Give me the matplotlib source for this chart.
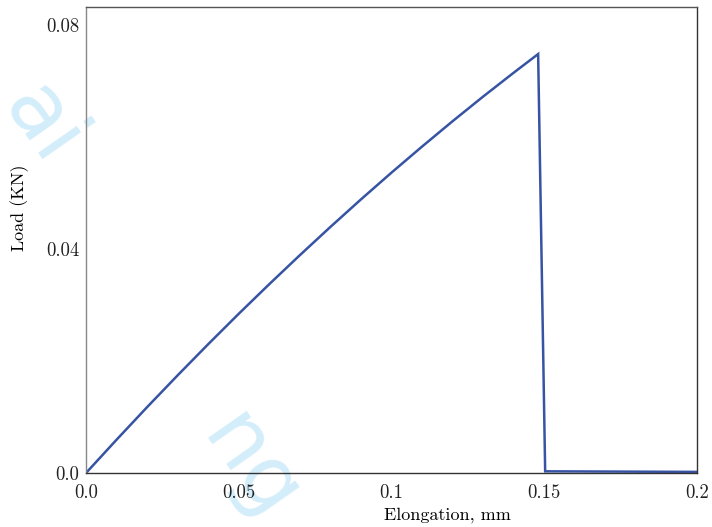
import numpy as np
import matplotlib
matplotlib.use("Agg")
import matplotlib.pyplot as plt

# Load-elongation curve
elongation = [0.0, 0.01, 0.02, 0.03, 0.04, 0.05, 0.06, 0.07, 0.08, 0.09,
              0.10, 0.11, 0.12, 0.13, 0.14, 0.148, 0.1503, 0.2]
load = [0.0, 0.00594, 0.01176, 0.01744, 0.02300, 0.02843, 0.03372, 0.03889,
        0.04393, 0.04885, 0.05363, 0.05828, 0.06281, 0.06721, 0.07147,
        0.07480, 0.0003, 0.0002]

xticks = [0.0, 0.05, 0.1, 0.15, 0.2]
xtick_labels = ["0.0", "0.05", "0.1", "0.15", "0.2"]
yticks = [0.0, 0.04, 0.08]
ytick_labels = ["0.0", "0.04", "0.08"]

plt.rcParams['font.family'] = ['cmr10', 'DejaVu Serif']
plt.rcParams['axes.formatter.use_mathtext'] = True

fig = plt.figure(figsize=(7.12, 5.27), dpi=100)
ax = fig.add_axes([86 / 712, 54 / 527, 611 / 712, 466 / 527])
ax.set_facecolor('none')

# faint watermark behind the axes
wm = dict(color='#d3eefa', fontsize=62, rotation=-55, zorder=-10,
          family='DejaVu Sans', ha='center', va='center')
fig.text(42 / 712, 1 - 125 / 527, "ai", **wm)
fig.text(250 / 712, 1 - 468 / 527, "ng", **wm)

ax.plot(elongation, load, color='#3753a3', lw=1.8, solid_joinstyle='miter')

ax.set_xlim(0, 0.2)
ax.set_ylim(0, 0.0832)
ax.set_xticks(xticks)
ax.set_xticklabels(xtick_labels)
ax.set_yticks(yticks)
ax.set_yticklabels(ytick_labels)
ax.tick_params(length=0, labelsize=13.5, colors='#222222')
ax.tick_params(axis='x', pad=8)
ax.tick_params(axis='y', pad=5)

ax.set_xlabel("Elongation, mm", fontsize=13)
ax.set_ylabel("Load (KN)", fontsize=13)
ax.xaxis.set_label_coords(0.592, -0.074)
ax.yaxis.set_label_coords(-0.094, 0.569)

ax.spines['left'].set_color('#888888')
ax.spines['bottom'].set_color('#333333')
ax.spines['top'].set_color('#555555')
ax.spines['right'].set_color('#333333')
for s in ax.spines.values():
    s.set_linewidth(1.0)

fig.savefig("out.png", dpi=100)
